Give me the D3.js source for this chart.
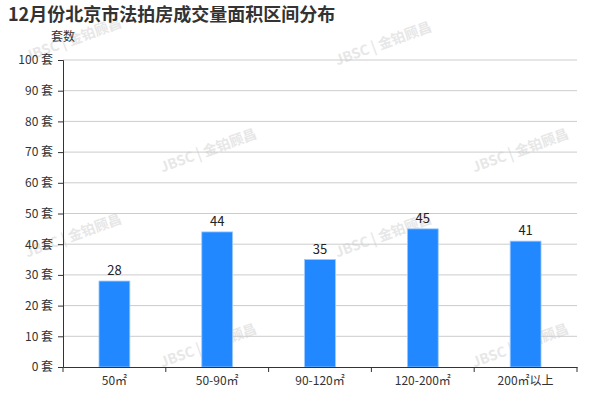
<!DOCTYPE html>
<html><head><meta charset="utf-8">
<script src="https://cdn.jsdelivr.net/npm/d3@7"></script>
<style>body{margin:0;background:#fff;font-family:"Microsoft YaHei","Noto Sans CJK SC",sans-serif;}</style>
</head><body><svg id="c" width="600" height="400"></svg>
<script>
const categories = ["50㎡","50-90㎡","90-120㎡","120-200㎡","200㎡以上"];
const values = [28,44,35,45,41];
const yTicks = [0,10,20,30,40,50,60,70,80,90,100];
const title = "12月份北京市法拍房成交量面积区间分布";
const yName = "套数";

const svg = d3.select("#c");
const font = '"Noto Sans CJK SC",sans-serif';
const m = {l:63, r:577, t:60, b:367};
const x = d3.scaleBand().domain(categories).range([m.l, m.r]);
const y = d3.scaleLinear().domain([0,100]).range([m.b, m.t]);

// watermarks
const wm = [[75,44],[385,48],[210,155],[522,155],[75,240],[385,240],[210,350],[522,350]];
wm.forEach(p=>{
  svg.append("text").attr("transform",`translate(${p[0]},${p[1]}) rotate(-20)`)
    .attr("text-anchor","middle").attr("font-family",font).attr("font-size",14).attr("font-weight","bold")
    .attr("fill","#bbb").attr("opacity",0.35).text("JBSC | 金铂顾昌");
});

svg.append("text").attr("x",8).attr("y",21).attr("font-family",font).attr("font-size",18)
  .attr("font-weight","bold").attr("fill","#333").text(title);
svg.append("text").attr("x",63).attr("y",41).attr("text-anchor","middle").attr("font-family",font)
  .attr("font-size",12).attr("fill","#333").text(yName);

// grid
svg.append("g").selectAll("line").data(yTicks.filter(d=>d>0)).join("line")
  .attr("x1",m.l).attr("x2",m.r).attr("y1",d=>y(d)).attr("y2",d=>y(d))
  .attr("stroke","#ccc").attr("stroke-width",1);

// y axis
const ya = svg.append("g").attr("transform",`translate(${m.l},0)`)
  .call(d3.axisLeft(y).tickValues(yTicks).tickSize(5).tickFormat(d=>d+" 套"));
ya.select(".domain").attr("stroke","#333");
ya.selectAll(".tick line").attr("stroke","#333");
ya.selectAll("text").attr("font-family",font).attr("font-size",12).attr("fill","#333").attr("dx",-2);

// bars
const bw = x.bandwidth()*0.3;
svg.append("g").selectAll("rect").data(values).join("rect")
  .attr("x",(d,i)=>x(categories[i])+x.bandwidth()/2-bw/2)
  .attr("y",d=>y(d)).attr("width",bw).attr("height",d=>y(0)-y(d))
  .attr("fill","#2288ff").attr("stroke","#9cc9ff").attr("stroke-width",0.8);
svg.append("g").selectAll("text").data(values).join("text")
  .attr("x",(d,i)=>x(categories[i])+x.bandwidth()/2).attr("y",d=>y(d)-6)
  .attr("text-anchor","middle").attr("font-family",font).attr("font-size",13).attr("fill","#222").text(d=>d);

// x axis
const xa = svg.append("g").attr("transform",`translate(0,${m.b})`)
  .call(d3.axisBottom(x).tickSize(0).tickSizeOuter(0));
xa.select(".domain").attr("stroke","#333");
xa.selectAll("text").attr("font-family",font).attr("font-size",12).attr("fill","#333").attr("dy","1.25em");
const bounds = categories.map(c=>x(c)).concat([m.r]);
svg.append("g").selectAll("line").data(bounds).join("line")
  .attr("x1",d=>d).attr("x2",d=>d).attr("y1",m.b).attr("y2",m.b+5).attr("stroke","#333");
</script></body></html>
